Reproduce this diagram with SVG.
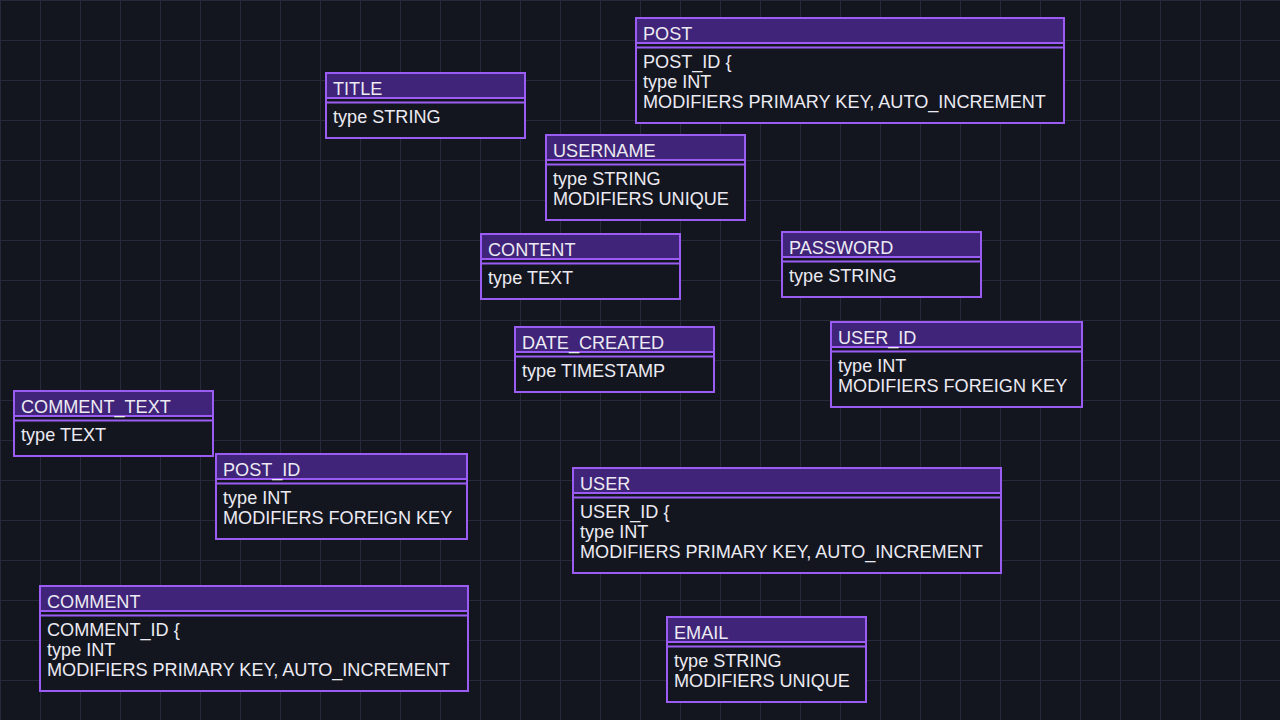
<svg xmlns="http://www.w3.org/2000/svg" width="1280" height="720" viewBox="0 0 1280 720">
<defs>
<pattern id="grid" width="40" height="40" patternUnits="userSpaceOnUse">
<path d="M0.5 0 V40 M0 0.5 H40" fill="none" stroke="#262a3a" stroke-width="1"/>
</pattern>
</defs>
<style>
.box{fill:#13161f;stroke:#9a5cf2;stroke-width:2}
.hdr{fill:#3f2479}
.sep{stroke:#9a5cf2;stroke-width:2}
text{font-family:"Liberation Sans",Arial,sans-serif;font-size:18.1px;fill:#eceaf2}
</style>
<rect width="1280" height="720" fill="#13161f"/>
<rect width="1280" height="720" fill="url(#grid)"/>
<g id="connectors"></g>

<g id="node-post" transform="translate(636,18)">
<rect class="box" width="428" height="105"/><rect class="hdr" x="1" y="1" width="426" height="24"/>
<line class="sep" x1="0" y1="25" x2="428" y2="25"/><line class="sep" x1="0" y1="29.5" x2="428" y2="29.5"/>
<text x="7" y="22">POST</text>
<text x="7" y="50">POST_ID {</text><text x="7" y="70">type INT</text><text x="7" y="90">MODIFIERS PRIMARY KEY, AUTO_INCREMENT</text>
</g>

<g id="node-title" transform="translate(326,73)">
<rect class="box" width="199" height="65"/><rect class="hdr" x="1" y="1" width="197" height="24"/>
<line class="sep" x1="0" y1="25" x2="199" y2="25"/><line class="sep" x1="0" y1="29.5" x2="199" y2="29.5"/>
<text x="7" y="22">TITLE</text>
<text x="7" y="50">type STRING</text>
</g>

<g id="node-username" transform="translate(546,135)">
<rect class="box" width="199" height="85"/><rect class="hdr" x="1" y="1" width="197" height="24"/>
<line class="sep" x1="0" y1="25" x2="199" y2="25"/><line class="sep" x1="0" y1="29.5" x2="199" y2="29.5"/>
<text x="7" y="22">USERNAME</text>
<text x="7" y="50">type STRING</text><text x="7" y="70">MODIFIERS UNIQUE</text>
</g>

<g id="node-content" transform="translate(481,234)">
<rect class="box" width="199" height="65"/><rect class="hdr" x="1" y="1" width="197" height="24"/>
<line class="sep" x1="0" y1="25" x2="199" y2="25"/><line class="sep" x1="0" y1="29.5" x2="199" y2="29.5"/>
<text x="7" y="22">CONTENT</text>
<text x="7" y="50">type TEXT</text>
</g>

<g id="node-password" transform="translate(782,232)">
<rect class="box" width="199" height="65"/><rect class="hdr" x="1" y="1" width="197" height="24"/>
<line class="sep" x1="0" y1="25" x2="199" y2="25"/><line class="sep" x1="0" y1="29.5" x2="199" y2="29.5"/>
<text x="7" y="22">PASSWORD</text>
<text x="7" y="50">type STRING</text>
</g>

<g id="node-date-created" transform="translate(515,327)">
<rect class="box" width="199" height="65"/><rect class="hdr" x="1" y="1" width="197" height="24"/>
<line class="sep" x1="0" y1="25" x2="199" y2="25"/><line class="sep" x1="0" y1="29.5" x2="199" y2="29.5"/>
<text x="7" y="22">DATE_CREATED</text>
<text x="7" y="50">type TIMESTAMP</text>
</g>

<g id="node-user-id" transform="translate(831,322)">
<rect class="box" width="251" height="85"/><rect class="hdr" x="1" y="1" width="249" height="24"/>
<line class="sep" x1="0" y1="25" x2="251" y2="25"/><line class="sep" x1="0" y1="29.5" x2="251" y2="29.5"/>
<text x="7" y="22">USER_ID</text>
<text x="7" y="50">type INT</text><text x="7" y="70">MODIFIERS FOREIGN KEY</text>
</g>

<g id="node-comment-text" transform="translate(14,391)">
<rect class="box" width="199" height="65"/><rect class="hdr" x="1" y="1" width="197" height="24"/>
<line class="sep" x1="0" y1="25" x2="199" y2="25"/><line class="sep" x1="0" y1="29.5" x2="199" y2="29.5"/>
<text x="7" y="22">COMMENT_TEXT</text>
<text x="7" y="50">type TEXT</text>
</g>

<g id="node-post-id" transform="translate(216,454)">
<rect class="box" width="251" height="85"/><rect class="hdr" x="1" y="1" width="249" height="24"/>
<line class="sep" x1="0" y1="25" x2="251" y2="25"/><line class="sep" x1="0" y1="29.5" x2="251" y2="29.5"/>
<text x="7" y="22">POST_ID</text>
<text x="7" y="50">type INT</text><text x="7" y="70">MODIFIERS FOREIGN KEY</text>
</g>

<g id="node-user" transform="translate(573,468)">
<rect class="box" width="428" height="105"/><rect class="hdr" x="1" y="1" width="426" height="24"/>
<line class="sep" x1="0" y1="25" x2="428" y2="25"/><line class="sep" x1="0" y1="29.5" x2="428" y2="29.5"/>
<text x="7" y="22">USER</text>
<text x="7" y="50">USER_ID {</text><text x="7" y="70">type INT</text><text x="7" y="90">MODIFIERS PRIMARY KEY, AUTO_INCREMENT</text>
</g>

<g id="node-comment" transform="translate(40,586)">
<rect class="box" width="428" height="105"/><rect class="hdr" x="1" y="1" width="426" height="24"/>
<line class="sep" x1="0" y1="25" x2="428" y2="25"/><line class="sep" x1="0" y1="29.5" x2="428" y2="29.5"/>
<text x="7" y="22">COMMENT</text>
<text x="7" y="50">COMMENT_ID {</text><text x="7" y="70">type INT</text><text x="7" y="90">MODIFIERS PRIMARY KEY, AUTO_INCREMENT</text>
</g>

<g id="node-email" transform="translate(667,617)">
<rect class="box" width="199" height="85"/><rect class="hdr" x="1" y="1" width="197" height="24"/>
<line class="sep" x1="0" y1="25" x2="199" y2="25"/><line class="sep" x1="0" y1="29.5" x2="199" y2="29.5"/>
<text x="7" y="22">EMAIL</text>
<text x="7" y="50">type STRING</text><text x="7" y="70">MODIFIERS UNIQUE</text>
</g>
</svg>
